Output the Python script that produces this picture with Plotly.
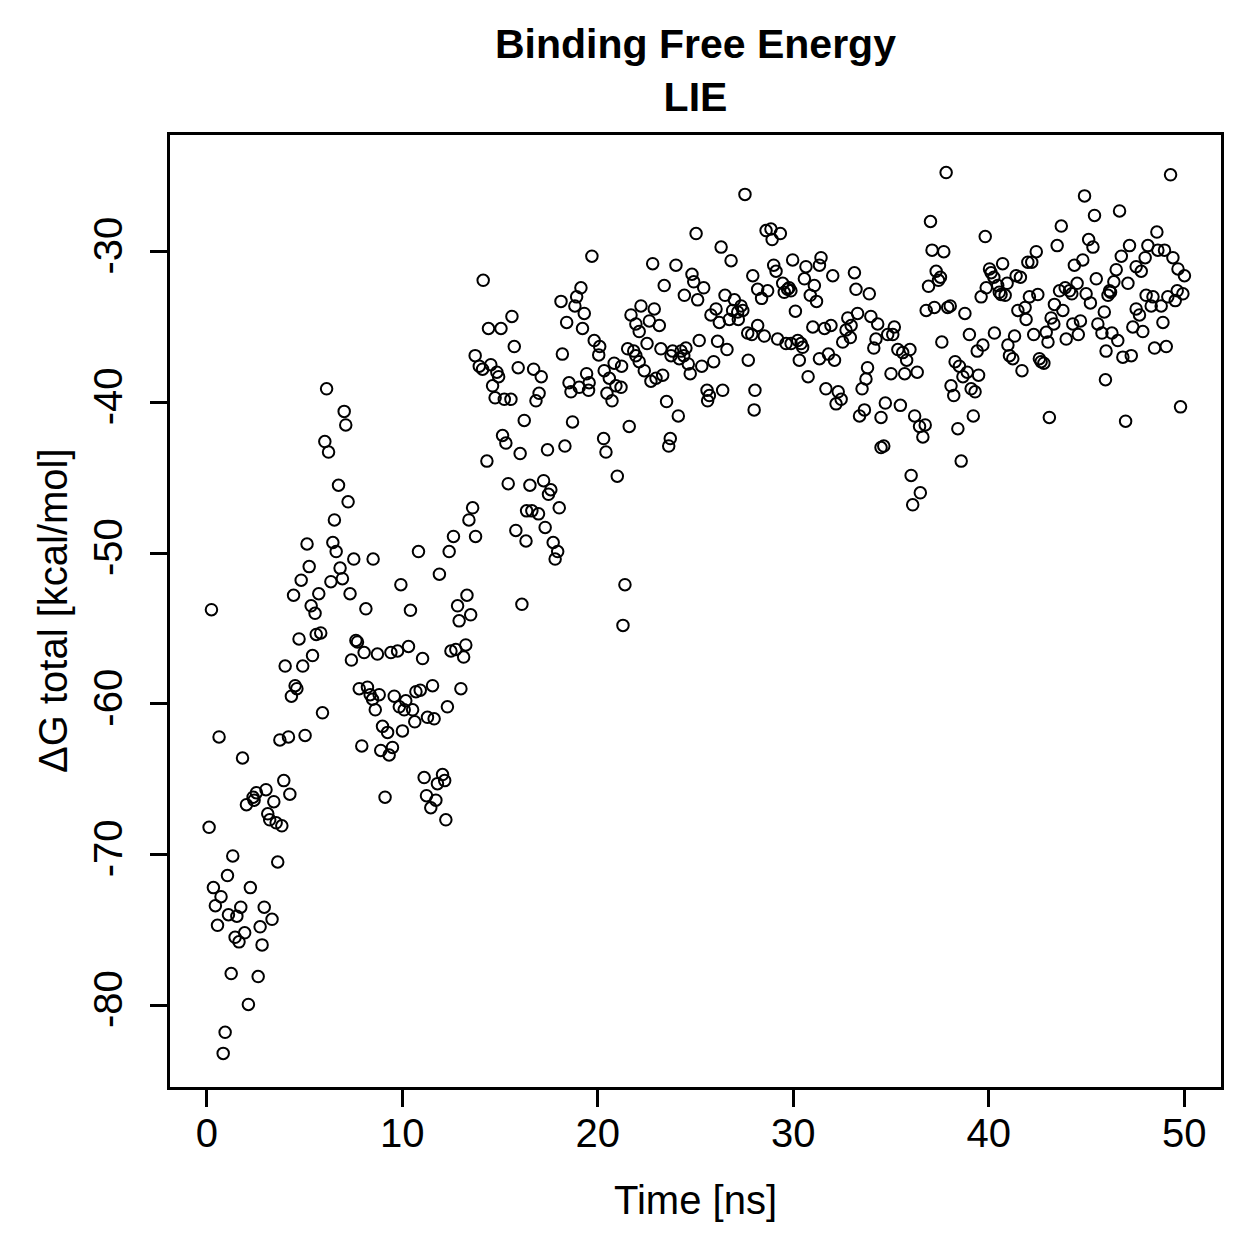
import plotly.graph_objects as go

# ---- data (time in ns, dG total in kcal/mol) ----
t_a = [0.24, 4.72, 5.60, 5.83, 5.41, 4.01, 4.91, 4.52, 4.61, 4.33, 5.92, 0.63, 3.74, 4.18, 5.03, 1.83, 3.94, 4.25, 3.03, 2.54, 2.37, 2.42, 2.03, 3.43, 3.12, 3.22, 3.55, 3.84, 0.12, 1.33, 3.63, 1.06, 0.34, 2.23, 0.73, 0.44, 2.94, 1.74, 1.11, 1.54, 3.34, 0.55, 2.73, 1.45, 1.94, 1.65, 2.83, 1.25, 2.63, 2.13, 0.94, 0.84]
y_a = [-53.76, -55.7, -55.4, -55.3, -56.8, -57.5, -57.5, -58.8, -59.0, -59.5, -60.6, -62.2, -62.4, -62.2, -62.1, -63.6, -65.1, -66.0, -65.7, -65.9, -66.2, -66.4, -66.7, -66.5, -67.3, -67.7, -67.9, -68.1, -68.2, -70.1, -70.5, -71.4, -72.2, -72.2, -72.8, -73.4, -73.5, -73.5, -74.0, -74.1, -74.3, -74.7, -74.8, -75.5, -75.2, -75.8, -76.0, -77.9, -78.1, -79.95, -81.8, -83.2]

t_b = [6.13, 7.03, 7.11, 6.04, 6.23, 6.74, 7.23, 6.53, 13.60, 13.41, 13.75, 12.62, 5.13, 6.45, 6.62, 7.52, 8.51, 10.83, 12.40, 5.24, 6.82, 6.94, 6.35, 4.83, 11.90, 5.73, 4.44, 7.33, 9.93, 13.31, 12.83, 5.34, 5.54, 8.14, 10.42, 13.50]
y_b = [-39.1, -40.6, -41.5, -42.6, -43.3, -45.5, -46.6, -47.8, -47.0, -47.8, -48.9, -48.9, -49.4, -49.3, -49.9, -50.4, -50.4, -49.9, -49.9, -50.9, -51.0, -51.7, -51.9, -51.8, -51.4, -52.7, -52.8, -52.7, -52.1, -52.8, -53.5, -53.5, -54.0, -53.7, -53.8, -54.1]

t_c = [12.91, 7.63, 7.71, 7.40, 8.05, 8.73, 9.42, 9.76, 10.32, 11.04, 12.49, 12.74, 13.25, 13.14, 7.80, 8.22, 8.36, 8.48, 8.82, 9.59, 9.85, 10.18, 10.10, 10.53, 10.70, 10.92, 11.55, 8.62, 13.00, 12.31, 11.29, 11.63, 10.64, 8.99, 9.25, 10.01, 7.93, 8.90, 9.50, 9.33, 11.12, 12.06, 11.80, 12.17, 9.12, 11.24, 11.72, 11.46, 12.23]
y_c = [-54.5, -55.8, -55.9, -57.1, -56.6, -56.7, -56.6, -56.5, -56.2, -57.0, -56.5, -56.4, -56.1, -56.9, -59.0, -58.9, -59.4, -59.7, -59.4, -59.5, -60.2, -59.8, -60.4, -60.4, -59.2, -59.1, -58.8, -60.4, -59.0, -60.2, -60.9, -61.0, -61.2, -61.5, -61.9, -61.8, -62.8, -63.1, -62.9, -63.4, -64.9, -64.7, -65.3, -65.1, -66.2, -66.1, -66.4, -66.9, -67.7]

t_d = [19.70, 14.14, 19.14, 18.92, 18.12, 18.83, 19.31, 15.61, 14.41, 15.05, 18.41, 19.22, 19.82, 15.73, 18.19, 13.73, 13.94, 14.11, 14.53, 14.84, 14.93, 14.62, 15.93, 16.72, 17.11, 18.53, 18.63, 19.05, 19.43, 19.56, 19.53, 14.75, 15.22, 15.56, 17.00, 16.84, 16.24, 18.71, 15.13]
y_d = [-30.3, -31.9, -32.4, -33.0, -33.3, -33.6, -34.1, -34.3, -35.1, -35.1, -34.7, -35.1, -35.9, -36.3, -36.8, -36.9, -37.6, -37.8, -37.5, -38.0, -38.3, -38.9, -37.7, -37.8, -38.3, -38.7, -39.3, -39.0, -38.1, -38.7, -39.2, -39.7, -39.8, -39.8, -39.4, -39.9, -41.2, -41.3, -42.2]

t_e = [15.30, 16.03, 17.43, 18.32, 14.33, 15.42, 16.53, 17.23, 17.60, 17.48, 18.03, 16.36, 16.63, 16.97, 15.81, 16.33, 17.31, 17.72, 17.95, 17.82, 16.12, 21.39, 21.29, 21.00]
y_e = [-42.7, -43.4, -43.15, -42.9, -43.9, -45.4, -45.5, -45.2, -45.8, -46.1, -47.0, -47.2, -47.2, -47.4, -48.5, -49.2, -48.3, -49.3, -49.9, -50.4, -53.4, -52.1, -54.8, -44.9]

t_f = [27.53, 25.03, 26.31, 26.82, 22.81, 24.00, 24.82, 24.91, 25.42, 27.93, 23.40, 24.43, 25.11, 26.51, 26.99, 27.33, 27.42, 27.16, 26.90, 27.19, 26.73, 26.22, 26.05, 25.79, 22.21, 22.89, 21.70, 22.64, 23.15, 21.95, 22.12, 25.19, 26.13, 26.61, 27.67, 27.88, 20.10, 20.05]
y_f = [-26.2, -28.8, -29.7, -30.6, -30.8, -30.9, -31.5, -32.0, -32.4, -31.6, -32.25, -32.9, -33.2, -32.9, -33.2, -33.6, -33.9, -34.0, -33.9, -34.5, -34.5, -34.7, -33.8, -34.2, -33.6, -33.8, -34.2, -34.6, -34.9, -34.8, -35.3, -35.9, -35.95, -36.5, -35.4, -35.5, -36.3, -36.85]

t_g = [21.53, 21.84, 21.95, 22.52, 23.23, 23.83, 23.75, 24.26, 24.51, 24.40, 24.17, 24.63, 24.73, 25.32, 25.93, 20.84, 21.22, 20.33, 20.59, 20.93, 21.19, 20.47, 20.73, 22.12, 22.38, 22.72, 22.98, 23.32, 25.59, 25.71, 25.62, 26.39, 28.04, 28.00, 23.52, 24.12, 21.61, 23.71, 23.63, 20.30, 20.42, 27.70]
y_g = [-36.45, -36.6, -36.9, -36.1, -36.45, -36.6, -36.9, -36.6, -36.4, -36.9, -37.1, -37.45, -38.1, -37.6, -37.3, -37.4, -37.6, -37.9, -38.4, -38.9, -39.0, -39.4, -39.9, -37.3, -37.9, -38.6, -38.4, -38.2, -39.2, -39.55, -39.9, -39.2, -39.2, -40.5, -39.95, -40.9, -41.6, -42.4, -42.9, -42.4, -43.3, -37.2]

t_h = [28.61, 28.86, 29.34, 28.92, 29.97, 30.65, 31.42, 31.34, 29.00, 29.12, 30.57, 31.08, 32.02, 33.13, 28.18, 28.69, 28.38, 29.46, 29.54, 29.71, 29.79, 29.88, 30.87, 31.19, 33.21, 33.89, 30.11, 28.18, 28.52]
y_h = [-28.6, -28.5, -28.8, -29.2, -30.55, -31.0, -30.4, -30.9, -30.9, -31.3, -31.8, -32.25, -31.6, -31.4, -32.5, -32.6, -33.1, -32.1, -32.7, -32.5, -32.4, -32.6, -32.9, -33.3, -32.5, -32.8, -33.95, -34.9, -35.6]

t_i = [29.20, 29.63, 29.89, 30.23, 30.40, 30.48, 30.31, 31.00, 31.60, 31.93, 31.34, 31.80, 32.11, 32.79, 33.29, 32.96, 32.70, 32.53, 32.92, 33.97, 34.32, 34.23, 34.12, 34.83, 35.17, 35.09, 35.35, 30.76, 31.67, 32.30, 32.45, 32.19, 33.80, 33.72, 33.52, 35.00, 33.64, 33.39, 34.71, 34.49, 35.48, 34.49, 34.63]
y_i = [-35.8, -36.1, -36.1, -35.9, -36.1, -36.35, -37.2, -35.0, -35.1, -34.9, -37.1, -36.8, -37.2, -34.4, -34.1, -34.9, -35.2, -36.0, -35.7, -34.3, -34.8, -35.8, -36.4, -35.5, -35.0, -35.5, -36.5, -38.3, -39.1, -39.3, -39.8, -40.1, -37.7, -38.45, -39.1, -38.1, -40.5, -40.9, -40.05, -41.0, -40.2, -43.0, -42.9]

t_j = [37.82, 37.02, 39.82, 37.10, 37.70, 37.31, 37.53, 37.43, 36.92, 40.04, 40.12, 40.26, 40.71, 39.87, 39.61, 40.46, 40.54, 40.63, 40.84, 40.94, 41.40, 41.62, 42.00, 42.20, 42.43, 42.08, 42.51, 41.49, 41.86, 41.91, 36.80, 37.22, 37.90, 38.03, 38.78, 39.01, 40.29, 37.60]
y_j = [-24.75, -28.0, -29.0, -29.9, -30.0, -31.3, -31.7, -31.9, -32.3, -31.15, -31.4, -31.7, -30.8, -32.4, -33.0, -32.25, -32.7, -32.85, -32.9, -32.1, -31.6, -31.7, -30.7, -30.7, -30.0, -33.0, -32.85, -33.9, -33.7, -34.5, -33.9, -33.7, -33.7, -33.6, -34.1, -35.5, -35.4, -36.0]

t_k = [41.32, 40.98, 42.30, 42.94, 43.03, 39.70, 39.41, 41.06, 41.23, 42.59, 42.68, 42.82, 41.70, 35.97, 35.80, 36.34, 35.60, 35.70, 38.28, 38.50, 38.90, 38.68, 39.48, 38.07, 38.21, 39.10, 39.30, 36.21, 36.46, 36.75, 36.63, 39.21, 38.42, 43.10, 38.59, 36.03, 36.50, 36.11]
y_k = [-35.6, -36.2, -35.5, -35.35, -36.0, -36.2, -36.6, -36.9, -37.1, -37.1, -37.3, -37.4, -37.9, -36.5, -37.2, -38.0, -36.7, -38.1, -37.3, -37.6, -38.0, -38.3, -38.2, -38.9, -39.55, -39.1, -39.3, -40.9, -41.6, -41.5, -42.3, -40.9, -41.75, -41.0, -43.9, -44.85, -46.0, -46.8]

t_l = [49.30, 44.90, 45.41, 46.69, 43.71, 43.50, 45.11, 45.33, 48.60, 47.20, 46.78, 48.14, 48.00, 48.65, 48.99, 49.42, 49.68, 50.01, 44.81, 44.38, 45.50, 46.52, 47.54, 47.80]
y_l = [-24.9, -26.3, -27.6, -27.3, -28.3, -29.6, -29.2, -29.7, -28.7, -29.6, -30.3, -29.6, -30.4, -29.9, -29.9, -30.4, -31.15, -31.6, -30.55, -30.9, -31.8, -31.2, -31.0, -31.3]

t_m = [44.52, 43.91, 43.62, 44.13, 44.25, 43.36, 43.79, 43.19, 43.33, 44.98, 45.20, 46.40, 46.18, 46.10, 46.23, 47.12, 45.91, 45.58, 45.79, 46.30, 46.60, 46.00, 44.30, 44.69, 44.58, 43.96]
y_m = [-32.1, -32.4, -32.6, -32.6, -32.8, -33.5, -33.9, -34.4, -34.8, -32.8, -33.4, -32.0, -32.6, -32.9, -32.7, -32.1, -34.0, -34.8, -35.4, -35.4, -35.9, -36.6, -34.8, -34.6, -35.5, -35.8]

t_n = [47.54, 47.71, 47.37, 47.88, 46.86, 47.29, 48.05, 48.40, 48.31, 48.82, 48.91, 49.16, 49.54, 49.64, 49.93, 48.48, 49.08, 45.97, 47.00, 49.81]
y_n = [-33.8, -34.2, -35.0, -35.3, -37.0, -36.9, -32.9, -33.0, -33.6, -33.6, -34.7, -33.0, -33.25, -32.6, -32.8, -36.4, -36.3, -38.5, -41.25, -40.3]

x_tick_values = [0, 10, 20, 30, 40, 50]
x_tick_labels = ["0", "10", "20", "30", "40", "50"]
y_tick_values = [-80, -70, -60, -50, -40, -30]
y_tick_labels = ["-80", "-70", "-60", "-50", "-40", "-30"]

t_parts = [t_a, t_b, t_c, t_d, t_e, t_f, t_g, t_h, t_i, t_j, t_k, t_l, t_m, t_n]
y_parts = [y_a, y_b, y_c, y_d, y_e, y_f, y_g, y_h, y_i, y_j, y_k, y_l, y_m, y_n]
time_ns, dg_total = [], []
for tp, yp in zip(t_parts, y_parts):
    assert len(tp) == len(yp)
    time_ns += tp
    dg_total += yp

FONT = "Liberation Sans, Arial, Helvetica, sans-serif"

fig = go.Figure(
    go.Scatter(
        x=time_ns, y=dg_total, mode="markers",
        marker=dict(symbol="circle-open", size=11.5, color="black",
                    line=dict(width=2, color="black")),
        hoverinfo="x+y", showlegend=False,
    )
)

axis_common = dict(
    showgrid=False, zeroline=False, showline=True, linecolor="black", linewidth=3,
    mirror=True, ticks="outside", ticklen=17, tickwidth=2.5, tickcolor="black",
    tickfont=dict(family=FONT, size=40, color="black"),
)

fig.update_layout(
    width=1259, height=1259,
    paper_bgcolor="white", plot_bgcolor="white",
    margin=dict(l=170, r=38, t=135, b=172),
    title=dict(text="<b>Binding Free Energy</b><br><b>LIE</b>",
               font=dict(family=FONT, size=41, color="black"),
               x=0.5, xref="paper", xanchor="center",
               y=1 - 58 / 1259, yref="container", yanchor="middle"),
    xaxis=dict(range=[-1.88, 51.88], tickvals=x_tick_values, ticktext=x_tick_labels,
               ticklabelstandoff=-8, **axis_common),
    yaxis=dict(range=[-85.43, -22.26], tickvals=y_tick_values, ticktext=y_tick_labels,
               tickangle=-90, ticklabelstandoff=12, **axis_common),
    annotations=[
        dict(text="Time [ns]", xref="paper", yref="paper", x=0.5, y=-(1200 - 1087) / 952,
             xanchor="center", yanchor="middle", showarrow=False,
             font=dict(family=FONT, size=40, color="black")),
        dict(text="ΔG total [kcal/mol]", xref="paper", yref="paper", x=-(170 - 53) / 1051, y=0.5,
             xanchor="center", yanchor="middle", textangle=-90, showarrow=False,
             font=dict(family=FONT, size=40, color="black")),
    ],
)

fig.write_html("out.html")
